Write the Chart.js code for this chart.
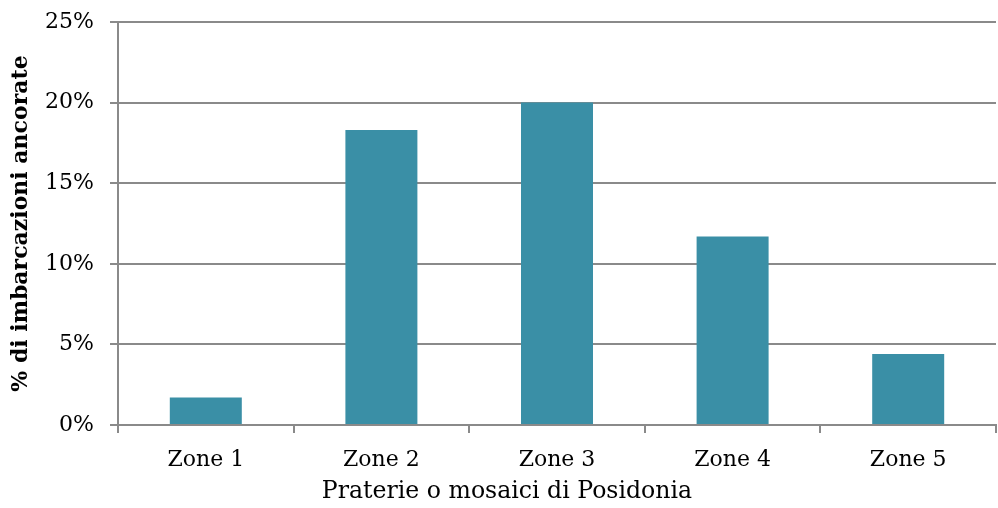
<!DOCTYPE html>
<html>
<head>
<meta charset="utf-8">
<script src="https://cdn.jsdelivr.net/npm/chart.js@4/dist/chart.umd.min.js"></script>
<style>
  html, body { margin: 0; padding: 0; background: #ffffff; }
  #wrap { width: 998px; height: 508px; }
</style>
</head>
<body>
<div id="wrap"><canvas id="c" width="998" height="508"></canvas></div>
<script>
// Zones surveyed and share of anchored boats in each (%)
const zones = ['Zone 1', 'Zone 2', 'Zone 3', 'Zone 4', 'Zone 5'];
const anchoredPct = [1.7, 18.3, 20.0, 11.7, 4.4];
const yTicks = [0, 5, 10, 15, 20, 25];
const xTitle = 'Praterie o mosaici di Posidonia';
const yTitle = '% di imbarcazioni ancorate';

const FONT = '"DejaVu Serif", serif';
const AXIS = '#8a8a8a';

// Axis title under the categories, centred on the whole chart width
const xTitlePlugin = {
  id: 'xTitle',
  afterDraw(chart) {
    const ctx = chart.ctx;
    ctx.save();
    ctx.font = '23.6px ' + FONT;
    ctx.fillStyle = '#000';
    ctx.textAlign = 'center';
    ctx.textBaseline = 'alphabetic';
    ctx.fillText(xTitle, chart.width * 0.508, 498);
    ctx.restore();
  }
};

new Chart(document.getElementById('c'), {
  type: 'bar',
  data: {
    labels: zones,
    datasets: [{
      data: anchoredPct,
      backgroundColor: '#3a8fa6',
      borderWidth: 0,
      categoryPercentage: 0.82,
      barPercentage: 0.5
    }]
  },
  options: {
    responsive: false,
    animation: false,
    devicePixelRatio: 1,
    layout: { padding: { left: 0, right: 2, top: 22, bottom: 0 } },
    plugins: { legend: { display: false }, tooltip: { enabled: false } },
    scales: {
      x: {
        offset: true,
        afterFit(scale) {
          scale.height = 83;
          scale.paddingLeft = 0;
          scale.paddingRight = 0;
        },
        grid: {
          offset: true,
          drawOnChartArea: false,
          color: AXIS,
          lineWidth: 2,
          tickLength: 8
        },
        border: { color: AXIS, width: 2 },
        ticks: {
          color: '#000',
          font: { family: FONT, size: 22 },
          padding: 14
        }
      },
      y: {
        min: 0,
        max: 25,
        afterBuildTicks(scale) {
          scale.ticks = yTicks.map(v => ({ value: v }));
        },
        afterFit(scale) {
          scale.width = 118;
          scale.paddingTop = 0;
          scale.paddingBottom = 0;
        },
        grid: {
          color: AXIS,
          lineWidth: 2,
          tickLength: 8
        },
        border: { color: AXIS, width: 2 },
        ticks: {
          color: '#000',
          font: { family: FONT, size: 22 },
          padding: 16,
          callback: v => v + '%'
        },
        title: {
          display: true,
          text: yTitle,
          color: '#000',
          font: { family: FONT, size: 22, weight: 'bold' },
          padding: { top: 8, bottom: 0 }
        }
      }
    }
  },
  plugins: [xTitlePlugin]
});
</script>
</body>
</html>
